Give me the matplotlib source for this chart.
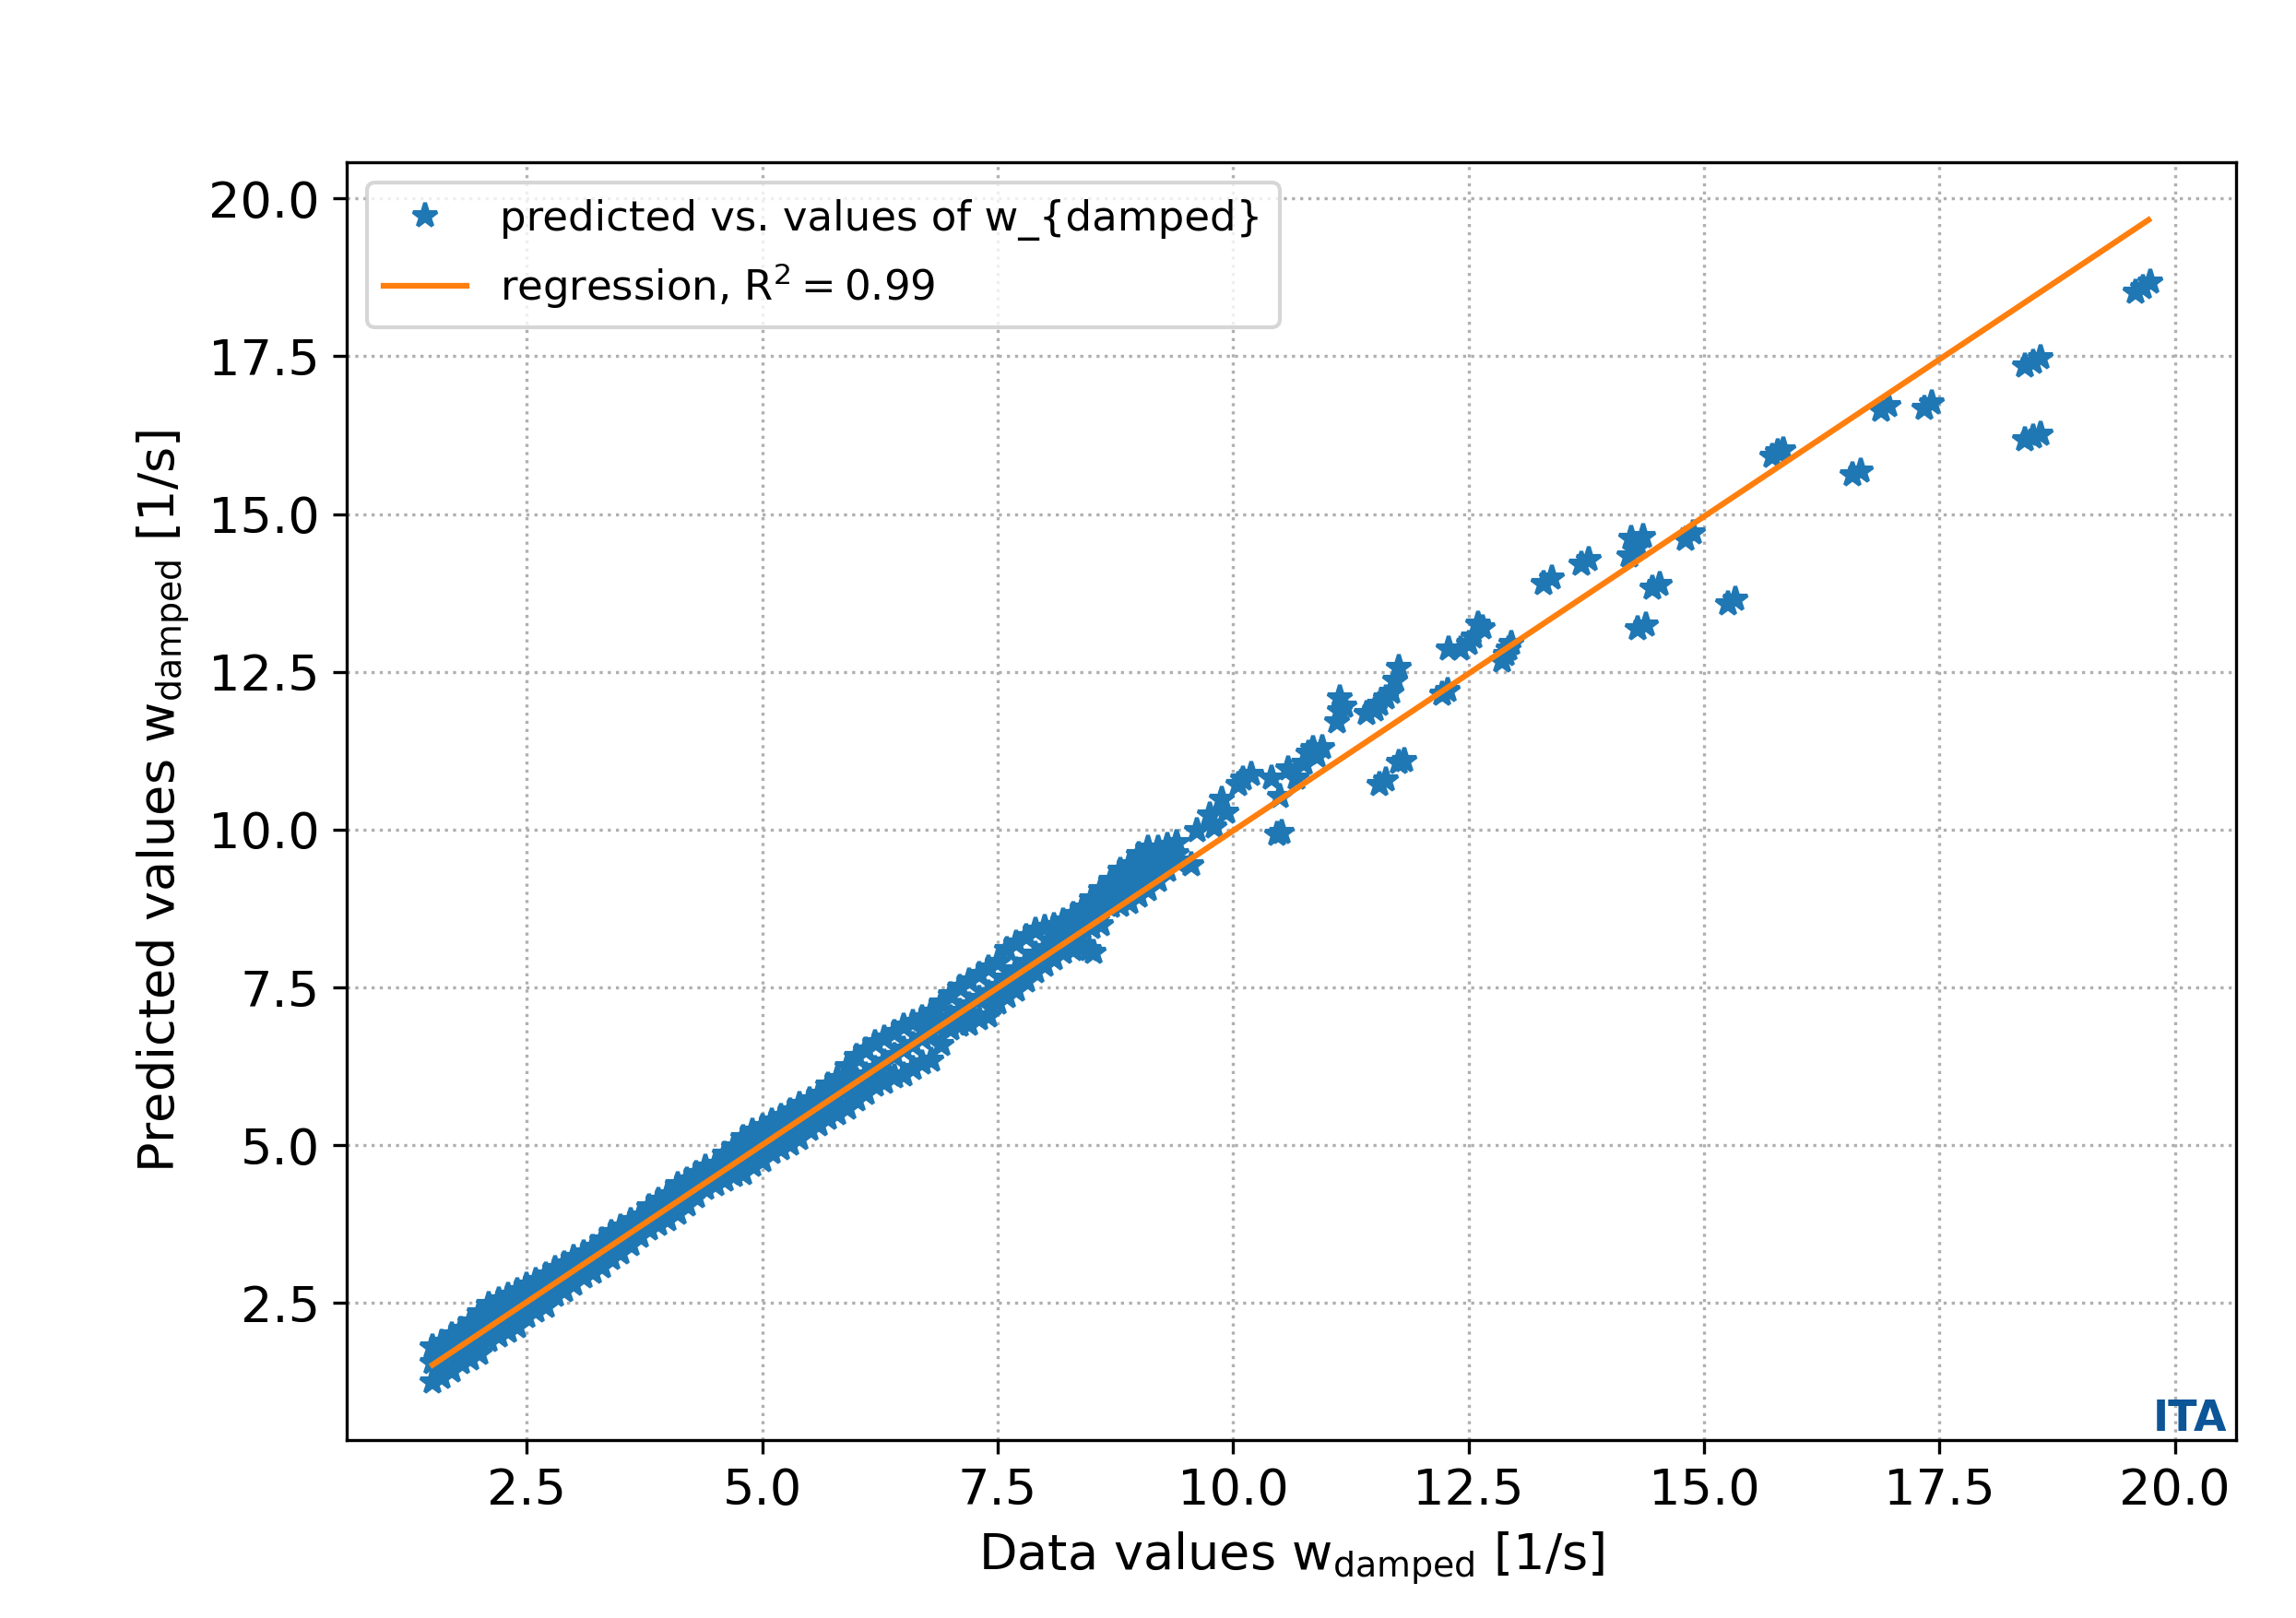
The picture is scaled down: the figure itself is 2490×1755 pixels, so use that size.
import numpy as np
from matplotlib import pyplot as plt

# dense band of points: for each data value, upper / middle / lower prediction
band_x = [1.5, 1.6, 1.7, 1.8, 1.9, 2.0, 2.1, 2.2, 2.3, 2.4,
          2.5, 2.6, 2.7, 2.8, 2.9, 3.0, 3.1, 3.2, 3.3, 3.4,
          3.5, 3.6, 3.7, 3.8, 3.9, 4.0, 4.1, 4.2, 4.3, 4.4,
          4.5, 4.6, 4.7, 4.8, 4.9, 5.0, 5.1, 5.2, 5.3, 5.4,
          5.5, 5.6, 5.7, 5.8, 5.9, 6.0, 6.1, 6.2, 6.3, 6.4,
          6.5, 6.6, 6.7, 6.8, 6.9, 7.0, 7.1, 7.2, 7.3, 7.4,
          7.5, 7.6, 7.7, 7.8, 7.9, 8.0, 8.1, 8.2, 8.3, 8.4,
          8.5, 8.6, 8.7, 8.8, 8.9, 9.0, 9.1, 9.2, 9.3, 9.4]
band_hi = [1.80, 1.88, 2.00, 2.08, 2.20, 2.35, 2.48, 2.55, 2.62, 2.70,
           2.78, 2.85, 2.95, 3.05, 3.12, 3.22, 3.30, 3.38, 3.50, 3.62,
           3.70, 3.80, 3.88, 4.02, 4.12, 4.22, 4.38, 4.45, 4.55, 4.65,
           4.70, 4.85, 4.98, 5.12, 5.22, 5.30, 5.38, 5.45, 5.55, 5.65,
           5.72, 5.80, 5.95, 6.05, 6.25, 6.40, 6.50, 6.62, 6.70, 6.78,
           6.88, 6.95, 7.02, 7.10, 7.25, 7.38, 7.50, 7.60, 7.70, 7.80,
           7.90, 8.10, 8.20, 8.30, 8.40, 8.45, 8.48, 8.55, 8.65, 8.75,
           8.90, 9.05, 9.20, 9.35, 9.45, 9.60, 9.70, 9.70, 9.75, 9.80]
band_mid = [1.55, 1.62, 1.72, 1.82, 1.92, 2.02, 2.15, 2.25, 2.33, 2.42,
            2.52, 2.62, 2.70, 2.82, 2.92, 3.02, 3.12, 3.20, 3.30, 3.40,
            3.50, 3.60, 3.72, 3.82, 3.92, 4.02, 4.12, 4.22, 4.32, 4.45,
            4.52, 4.62, 4.72, 4.82, 4.92, 5.02, 5.12, 5.20, 5.30, 5.40,
            5.50, 5.58, 5.68, 5.78, 5.90, 6.02, 6.12, 6.22, 6.32, 6.42,
            6.52, 6.60, 6.70, 6.80, 6.92, 7.02, 7.12, 7.22, 7.32, 7.42,
            7.52, 7.65, 7.78, 7.90, 8.02, 8.12, 8.22, 8.30, 8.38, 8.45,
            8.65, 8.75, 8.95, 9.05, 9.15, 9.25, 9.38, 9.45, 9.55, 9.62]
band_lo = [1.25, 1.32, 1.42, 1.55, 1.62, 1.70, 1.90, 1.98, 2.05, 2.12,
           2.28, 2.38, 2.45, 2.62, 2.70, 2.80, 2.92, 2.98, 3.08, 3.20,
           3.30, 3.42, 3.55, 3.68, 3.75, 3.82, 3.92, 4.05, 4.18, 4.32,
           4.38, 4.45, 4.52, 4.55, 4.68, 4.75, 4.88, 4.95, 5.02, 5.10,
           5.25, 5.32, 5.42, 5.50, 5.58, 5.72, 5.82, 5.95, 6.00, 6.08,
           6.12, 6.22, 6.30, 6.35, 6.60, 6.85, 6.90, 6.92, 7.00, 7.05,
           7.25, 7.35, 7.45, 7.60, 7.75, 7.85, 7.95, 8.05, 8.10, 8.15,
           8.45, 8.50, 8.78, 8.80, 8.85, 8.95, 9.05, 9.20, 9.35, 9.50]

# sparser clusters at higher values
extra_x = [8.47, 8.52,
           9.56, 9.62, 9.75, 9.80, 9.88, 9.93, 10.06, 10.10, 10.19,
           10.41, 10.50, 10.58, 10.67, 10.75, 10.80, 10.85, 10.89, 10.95,
           10.47, 10.52,
           11.10, 11.13, 11.13, 11.18,
           11.42, 11.50, 11.55, 11.62, 11.68, 11.72, 11.76,
           11.55, 11.62, 11.76, 11.82,
           12.22, 12.28,
           12.29, 12.42, 12.50, 12.55, 12.60, 12.65,
           12.86, 12.90, 12.92, 12.95,
           13.30, 13.38, 13.70, 13.78,
           14.21, 14.23, 14.28, 14.30, 14.35,
           14.80, 14.88, 14.45, 14.53, 14.30, 14.38, 15.25, 15.33,
           15.72, 15.78, 15.84, 16.58, 16.66,
           16.88, 16.96, 17.34, 17.42,
           18.41, 18.50, 18.57, 18.41, 18.50, 18.57,
           19.58, 19.66, 19.74]
extra_y = [8.10, 8.05,
           9.45, 9.99, 10.23, 10.04, 10.48, 10.28, 10.72, 10.80, 10.87,
           10.82, 10.52, 10.96, 10.82, 11.05, 11.21, 11.28, 11.16, 11.30,
           9.92, 9.95,
           11.70, 11.88, 12.08, 11.95,
           11.84, 11.90, 11.98, 12.08, 12.18, 12.37, 12.57,
           10.72, 10.78, 11.06, 11.10,
           12.15, 12.20,
           12.86, 12.86, 12.95, 13.05, 13.25, 13.20,
           12.67, 12.78, 12.86, 12.95,
           13.90, 13.98, 14.20, 14.28,
           14.34, 14.61, 14.45, 14.51, 14.65,
           14.60, 14.70, 13.82, 13.88, 13.18, 13.24, 13.58, 13.65,
           15.92, 15.98, 16.02, 15.62, 15.68,
           16.64, 16.72, 16.68, 16.76,
           17.34, 17.40, 17.48, 16.17, 16.22, 16.27,
           18.51, 18.58, 18.68]

# regression line end points
reg_x = [1.50, 19.72]
reg_y = [1.52, 19.66]

data_x = np.concatenate([band_x, band_x, band_x, extra_x])
data_y = np.concatenate([band_hi, band_mid, band_lo, extra_y])

fig, ax = plt.subplots(figsize=(8.3, 5.85), dpi=300)
fig.subplots_adjust(left=0.151, right=0.974, bottom=0.11, top=0.9)

ax.plot(data_x, data_y, '*', markersize=6.5, color='tab:blue',
        label='predicted vs. values of w_{damped}')
ax.plot(reg_x, reg_y, color='tab:orange',
        label=r'regression, $\mathrm{R^2 = 0.99}$')

ax.grid(linestyle=':', color='#b0b0b0')
ax.set_axisbelow(True)
ax.tick_params(labelsize=13)
ax.set_xlabel(r'Data values w$_{\mathrm{damped}}$ [1/s]', fontsize=13)
ax.set_ylabel(r'Predicted values w$_{\mathrm{damped}}$ [1/s]', fontsize=13)
ax.legend(loc='upper left', fontsize=10.8)

ax.text(0.995, 0.0, 'ITA', transform=ax.transAxes, ha='right', va='bottom',
        fontsize=11, fontweight='bold', color='#0c5597')

fig.savefig('out.png', dpi=300)
